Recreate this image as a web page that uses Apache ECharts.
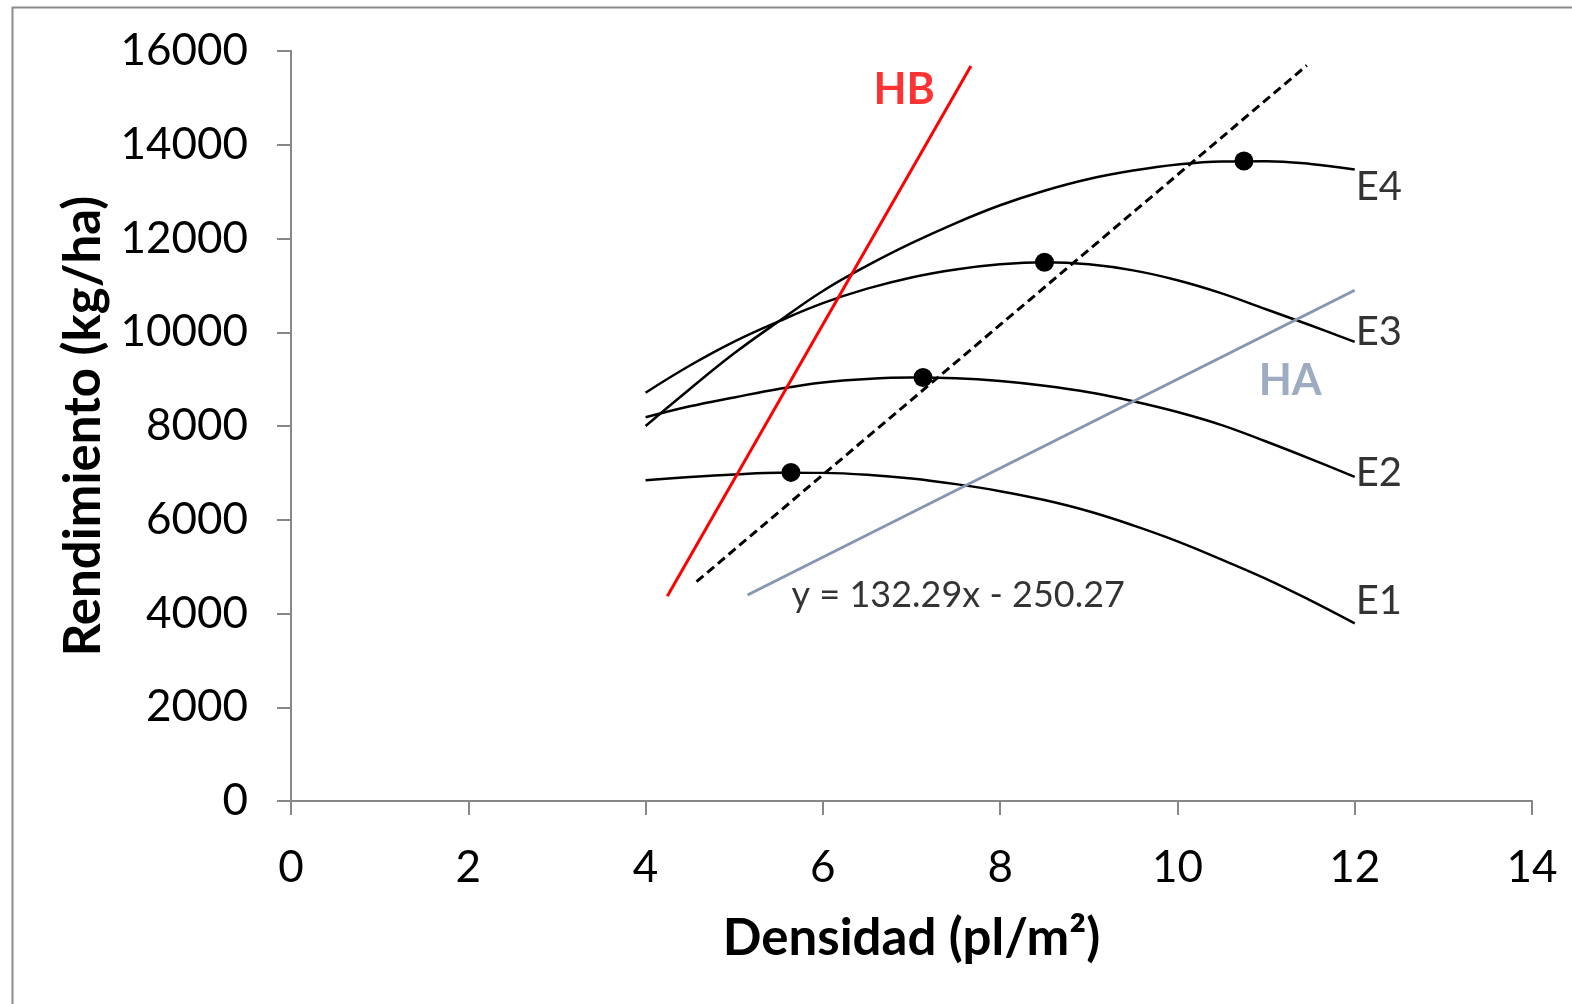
<!DOCTYPE html>
<html>
<head>
<meta charset="utf-8">
<title>Rendimiento vs Densidad</title>
<script src="https://cdn.jsdelivr.net/npm/echarts@6/dist/echarts.min.js"></script>
<style>
body{margin:0;background:#fff;}
#main{width:1572px;height:1004px;}
</style>
</head>
<body>
<div id="main"></div>
<script>
// densidades
var densX = [4, 4.5, 5, 5.5, 6, 6.5, 7, 7.5, 8, 8.5, 9, 9.5, 10, 10.5, 11, 11.5, 12];
var e1 = [6845, 6910, 6965, 7005, 7000, 6960, 6880, 6760, 6610, 6420, 6180, 5880, 5540, 5150, 4740, 4280, 3790];
var e2 = [8185, 8420, 8610, 8790, 8930, 9005, 9035, 9020, 8960, 8860, 8720, 8530, 8300, 8020, 7670, 7300, 6915];
var e3 = [8710, 9290, 9800, 10230, 10620, 10930, 11170, 11340, 11450, 11495, 11450, 11320, 11110, 10830, 10490, 10150, 9795];
var e4 = [8000, 8790, 9550, 10230, 10880, 11420, 11900, 12330, 12710, 13020, 13270, 13450, 13580, 13645, 13650, 13590, 13470];

// maximos de cada curva
var optX = [5.64, 7.13, 8.50, 10.75];
var optY = [7010, 9035, 11495, 13652];

// rectas (extremos)
var hbX = [4.245, 7.67];
var hbY = [4370, 15678];
var optLineX = [4.575, 11.46];
var optLineY = [4680, 15693];
var haX = [5.15, 12.0];
var haY = [4395, 10896];

var xTicks = [0, 14, 2];
var yTicks = [0, 16000, 2000];
var curveNames = ['E1', 'E2', 'E3', 'E4'];
var ecuacion = 'y = 132.29x - 250.27';

function pairs(xs, ys){
	var out = [];
	for (var i = 0; i < xs.length; i++) out.push([xs[i], ys[i]]);
	return out;
}

var font = 'Lato';
var gray = '#878787';
var curves = [e1, e2, e3, e4];
var series = [];
for (var k = 0; k < curves.length; k++) {
	series.push({
		name: curveNames[k], type: 'line', smooth: 0.4, showSymbol: false, silent: true,
		lineStyle: {color: '#000', width: 2.5},
		data: pairs(densX, curves[k])
	});
}
series.push({
	type: 'line', showSymbol: false, silent: true,
	lineStyle: {color: '#ff0000', width: 3},
	data: pairs(hbX, hbY)
});
series.push({
	type: 'line', showSymbol: false, silent: true,
	lineStyle: {color: '#000', width: 3, type: [9, 5]},
	data: pairs(optLineX, optLineY)
});
series.push({
	type: 'line', showSymbol: false, silent: true,
	lineStyle: {color: '#8497b0', width: 3},
	data: pairs(haX, haY)
});
series.push({
	type: 'scatter', symbolSize: 19, silent: true, z: 5,
	itemStyle: {color: '#000', opacity: 1},
	data: pairs(optX, optY)
});

// etiquetas de texto
var last = densX.length - 1;
var eOffsets = [[1, -22], [1, -4], [1, -10], [1, 17]];
var labelData = [];
for (var k = 0; k < curves.length; k++) {
	labelData.push({
		value: [densX[last], curves[k][last]],
		label: {formatter: curveNames[k], offset: eOffsets[k]}
	});
}
labelData.push({
	value: [hbX[1], hbY[1]],
	label: {formatter: 'HB', position: 'left', offset: [-36, 24], color: '#ff0000', fontWeight: 'bold', fontSize: 43}
});
labelData.push({
	value: [haX[1], haY[1]],
	label: {formatter: 'HA', position: 'left', offset: [-33, 91], color: '#8497b0', fontWeight: 'bold', fontSize: 43}
});
labelData.push({
	value: [haX[0], haY[0]],
	label: {formatter: ecuacion, offset: [44, 0], fontSize: 36}
});
series.push({
	type: 'scatter', symbolSize: 0, silent: true,
	label: {show: true, position: 'right', distance: 0, color: '#000', fontFamily: font, fontSize: 40},
	data: labelData
});

var myChart = echarts.init(document.getElementById('main'));
var option = {
	animation: false,
	backgroundColor: '#fff',
	grid: {left: 291, right: 40, top: 51, bottom: 203},
	graphic: [{
		type: 'rect', left: 10, top: 5, silent: true,
		shape: {width: 1600, height: 1100},
		style: {fill: 'none', stroke: '#8c8c8c', lineWidth: 2}
	}],
	xAxis: {
		type: 'value', min: xTicks[0], max: xTicks[1], interval: xTicks[2],
		name: 'Densidad (pl/m²)', nameLocation: 'middle', nameGap: 112,
		nameTextStyle: {fontFamily: font, fontWeight: 'bold', fontSize: 51, color: '#000'},
		axisLine: {lineStyle: {color: gray, width: 2}},
		axisTick: {length: 14, lineStyle: {color: gray, width: 2}},
		axisLabel: {margin: 45, fontFamily: font, fontSize: 44, color: '#000'},
		splitLine: {show: false}
	},
	yAxis: {
		type: 'value', min: yTicks[0], max: yTicks[1], interval: yTicks[2],
		name: 'Rendimiento (kg/ha)', nameLocation: 'middle', nameGap: 161,
		nameTextStyle: {fontFamily: font, fontWeight: 'bold', fontSize: 51, color: '#000'},
		axisLine: {show: true, lineStyle: {color: gray, width: 2}},
		axisTick: {show: true, length: 14, lineStyle: {color: gray, width: 2}},
		axisLabel: {
			margin: 43, fontFamily: font, fontSize: 44, color: '#000',
			formatter: function(v){ return String(v); }
		},
		splitLine: {show: false}
	},
	series: series
};
myChart.setOption(option);
</script>
</body>
</html>
